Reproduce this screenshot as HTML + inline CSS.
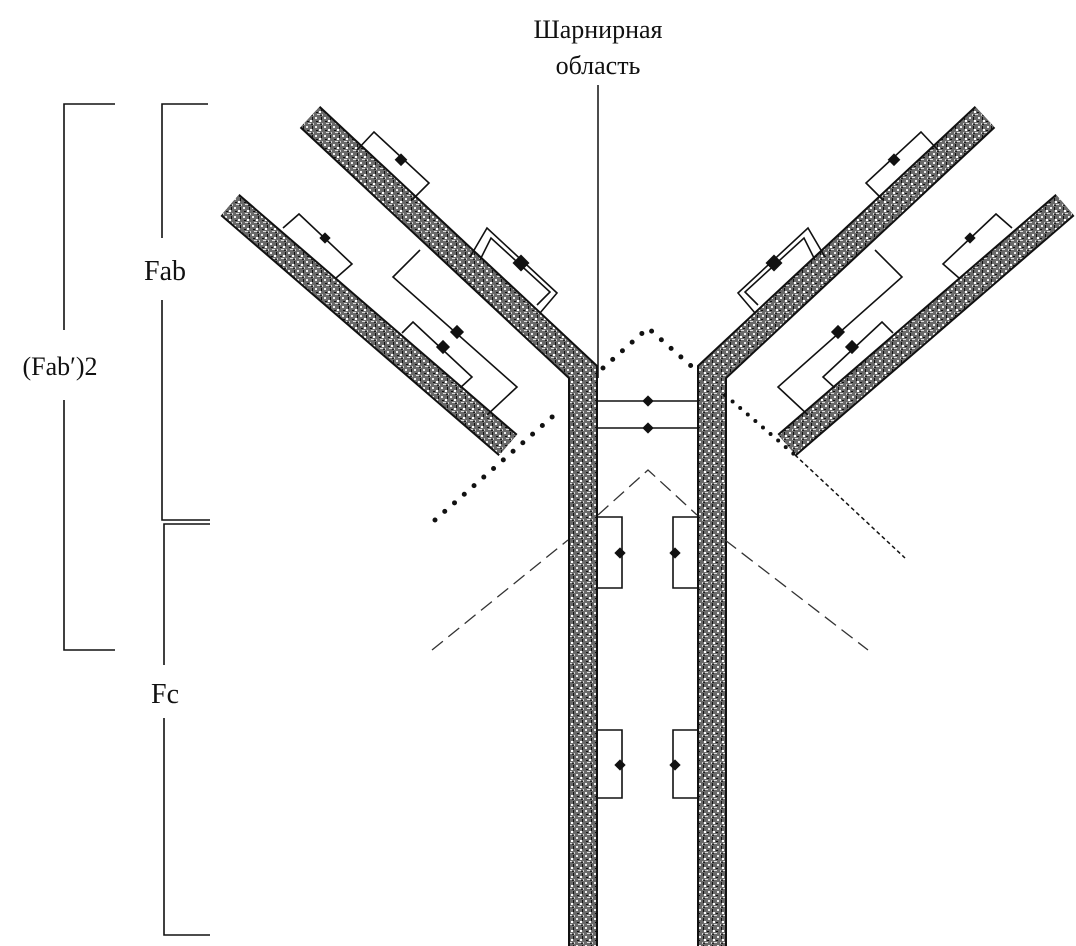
<!DOCTYPE html>
<html><head><meta charset="utf-8"><style>
html,body{margin:0;padding:0;background:#fff;}
svg{display:block;}
text{font-family:"Liberation Serif","DejaVu Serif",serif;fill:#111;}
</style></head><body>
<svg width="1076" height="946" viewBox="0 0 1076 946" xmlns="http://www.w3.org/2000/svg">
<defs>
<pattern id="st" width="9" height="9" patternUnits="userSpaceOnUse">
<rect width="9" height="9" fill="#6a6a6a"/>
<rect x="0" y="0" width="2" height="2" fill="#eee"/>
<rect x="4" y="3" width="2" height="2" fill="#fff"/>
<rect x="2" y="6" width="3" height="1" fill="#ddd"/>
<rect x="7" y="6" width="1" height="2" fill="#ccc"/>
<rect x="6" y="0" width="1" height="3" fill="#111"/>
<rect x="1" y="4" width="2" height="1" fill="#111"/>
<rect x="5" y="7" width="2" height="1" fill="#222"/>
</pattern>
<g id="half">
<polyline points="310,117 583,372 583,946" fill="none" stroke="#111" stroke-width="30" stroke-linejoin="miter"/>
<polyline points="310,117 583,372 583,946" fill="none" stroke="url(#st)" stroke-width="26" stroke-linejoin="miter"/>
<polyline points="230,205 508,445" fill="none" stroke="#111" stroke-width="29"/>
<polyline points="230,205 508,445" fill="none" stroke="url(#st)" stroke-width="25"/>
<g fill="none" stroke="#111" stroke-width="1.6">
<polyline points="357,150 374,132 429,183 412,200"/>
<polyline points="470,257 487,228 557,293 540,313"/>
<polyline points="480,260 491,238 550,292 537,305"/>
<polyline points="283,228 299,214 352,264 336,278"/>
<polyline points="420,250 393,277 517,387 487,415"/>
<polyline points="402,333 413,322 472,377 460,388"/>
<polyline points="598,517 622,517 622,588 598,588"/>
<polyline points="598,730 622,730 622,798 598,798"/>
</g>
<g fill="#111">
<rect x="397" y="155" width="9" height="9" transform="rotate(45 401 159)"/>
<rect x="515" y="257" width="12" height="12" transform="rotate(45 521 263)"/>
<rect x="321" y="234" width="8" height="8" transform="rotate(45 325 238)"/>
<rect x="452" y="327" width="10" height="10" transform="rotate(45 457 332)"/>
<rect x="438" y="342" width="10" height="10" transform="rotate(45 443 347)"/>
<rect x="616" y="549" width="8" height="8" transform="rotate(45 620 553)"/>
<rect x="616" y="761" width="8" height="8" transform="rotate(45 620 765)"/>
</g>
</g>
</defs>
<use href="#half"/>
<use href="#half" transform="translate(1295,0) scale(-1,1)"/>
<line x1="598" y1="85" x2="598" y2="378" stroke="#111" stroke-width="1.5"/>
<line x1="598" y1="401" x2="697" y2="401" stroke="#111" stroke-width="1.5"/>
<line x1="598" y1="428" x2="697" y2="428" stroke="#111" stroke-width="1.5"/>
<rect x="644" y="397" width="8" height="8" transform="rotate(45 648 401)" fill="#111"/>
<rect x="644" y="424" width="8" height="8" transform="rotate(45 648 428)" fill="#111"/>
<!-- dotted -->
<polyline points="435,520 560,410" fill="none" stroke="#111" stroke-width="5" stroke-dasharray="0 13" stroke-linecap="round"/>
<polyline points="603,368 648,328 698,372" fill="none" stroke="#111" stroke-width="5" stroke-dasharray="0 13" stroke-linecap="round"/>
<polyline points="725,395 795,455" fill="none" stroke="#111" stroke-width="4" stroke-dasharray="0 10" stroke-linecap="round"/>
<polyline points="795,455 905,558" fill="none" stroke="#111" stroke-width="1.5" stroke-dasharray="4 3"/>
<!-- dashed -->
<polyline points="432,650 568,540" fill="none" stroke="#333" stroke-width="1.3" stroke-dasharray="14 7"/>
<polyline points="598,515 648,470 697,515" fill="none" stroke="#333" stroke-width="1.3" stroke-dasharray="14 7"/>
<polyline points="725,540 868,650" fill="none" stroke="#333" stroke-width="1.3" stroke-dasharray="14 7"/>
<g fill="none" stroke="#111" stroke-width="1.6">
<polyline points="115,104 64,104 64,330"/>
<polyline points="64,400 64,650 115,650"/>
<polyline points="208,104 162,104 162,238"/>
<polyline points="162,300 162,520 210,520"/>
<polyline points="210,524 164,524 164,665"/>
<polyline points="164,718 164,935 210,935"/>
</g>
<text x="598" y="38" font-size="26" text-anchor="middle">Шарнирная</text>
<text x="598" y="74" font-size="26" text-anchor="middle">область</text>
<text x="165" y="280" font-size="28" text-anchor="middle">Fab</text>
<text x="60" y="375" font-size="26" text-anchor="middle">(Fab′)2</text>
<text x="165" y="703" font-size="28" text-anchor="middle">Fc</text>
</svg>
</body></html>
